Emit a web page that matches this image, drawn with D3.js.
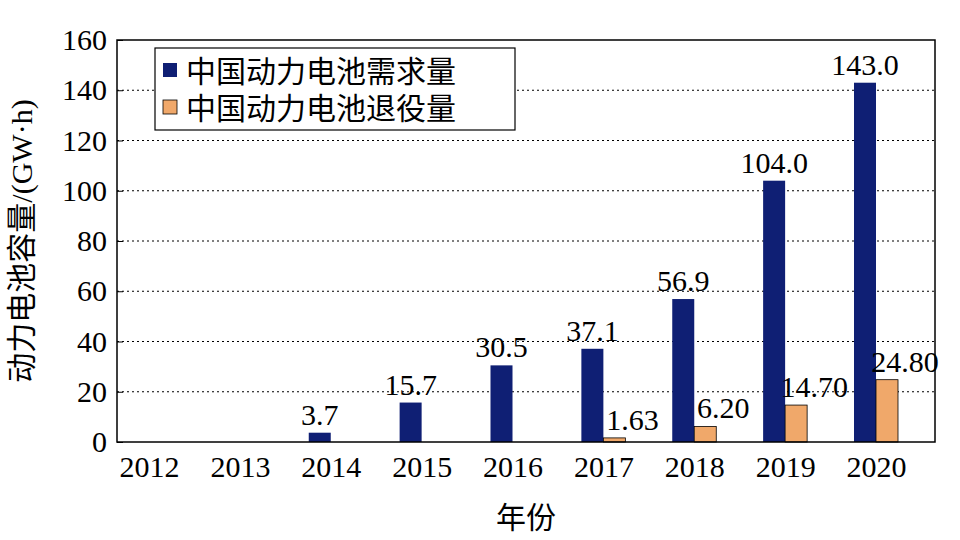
<!DOCTYPE html>
<html><head><meta charset="utf-8">
<script src="https://cdn.jsdelivr.net/npm/d3@7"></script>
<style>body{margin:0;background:#fff}text{font-family:"Liberation Serif","Noto Sans CJK SC",serif}</style>
</head><body><svg id="c" width="960" height="540"></svg>
<script>
var years = ["2012","2013","2014","2015","2016","2017","2018","2019","2020"];
var demand = [0,0,3.7,15.7,30.5,37.1,56.9,104.0,143.0];
var demandLabels = [null,null,"3.7","15.7","30.5","37.1","56.9","104.0","143.0"];
var retired = [0,0,0,0,0,1.63,6.20,14.70,24.80];
var retiredLabels = [null,null,null,null,null,"1.63","6.20","14.70","24.80"];
var yTicks = [0,20,40,60,80,100,120,140,160];

var margin = {top: 40, right: 25, bottom: 98, left: 117};
var W = 960, H = 540;
var svg = d3.select("#c");
var x = d3.scalePoint().domain(years).range([149, 876]);
var y = d3.scaleLinear().domain([0,160]).range([H - margin.bottom, margin.top]);
var bw = 22;

var rows = years.map((yr, i) => ({yr: yr, d: demand[i], dl: demandLabels[i], r: retired[i], rl: retiredLabels[i]}));

// grid
svg.append("g").selectAll("line").data(yTicks.slice(1,-1)).join("line")
  .attr("x1", margin.left).attr("x2", W - margin.right)
  .attr("y1", d => y(d)).attr("y2", d => y(d))
  .attr("stroke", "#000").attr("stroke-dasharray", "2,3").attr("stroke-width", 1);

// bars
svg.append("g").selectAll("rect").data(rows).join("rect")
  .attr("x", d => x(d.yr) - bw)
  .attr("y", d => y(d.d)).attr("width", bw).attr("height", d => y(0) - y(d.d))
  .attr("fill", "#0f1f74");
svg.append("g").selectAll("rect").data(rows).join("rect")
  .attr("x", d => x(d.yr))
  .attr("y", d => y(d.r)).attr("width", bw).attr("height", d => y(0) - y(d.r))
  .attr("fill", "#f0a86a").attr("stroke", d => d.r > 0 ? "#000" : "none").attr("stroke-width", 0.8);

// labels
svg.append("g").selectAll("text").data(rows.filter(d => d.dl)).join("text")
  .attr("x", d => x(d.yr) - bw/2)
  .attr("y", d => y(d.d) - 8).attr("text-anchor", "middle").attr("font-size", 30)
  .text(d => d.dl);
svg.append("g").selectAll("text").data(rows.filter(d => d.rl)).join("text")
  .attr("x", d => x(d.yr) + bw/2 + 18)
  .attr("y", d => y(d.r) - 8).attr("text-anchor", "middle").attr("font-size", 30)
  .text(d => d.rl);

// frame
svg.append("rect").attr("x", margin.left).attr("y", margin.top)
  .attr("width", W - margin.left - margin.right).attr("height", H - margin.top - margin.bottom)
  .attr("fill", "none").attr("stroke", "#000").attr("stroke-width", 1.5);

// axes
var ya = svg.append("g").attr("transform", `translate(${margin.left},0)`)
  .call(d3.axisLeft(y).tickValues(yTicks).tickSize(-6).tickPadding(10));
ya.select(".domain").remove();
ya.selectAll("text").attr("font-size", 30).attr("font-family", "Liberation Serif").attr("fill", "#000");
var xa = svg.append("g").attr("transform", `translate(0,${H - margin.bottom})`)
  .call(d3.axisBottom(x).tickSize(0).tickPadding(14));
xa.select(".domain").remove();
xa.selectAll("text").attr("font-size", 30).attr("font-family", "Liberation Serif").attr("fill", "#000");

svg.append("text").attr("x", (margin.left + W - margin.right)/2).attr("y", 528)
  .attr("text-anchor", "middle").attr("font-size", 30).text("年份");
svg.append("text").attr("transform", `translate(32,${(margin.top + H - margin.bottom)/2}) rotate(-90)`)
  .attr("text-anchor", "middle").attr("font-size", 30).text("动力电池容量/(GW·h)");

// legend
var lg = svg.append("g");
lg.append("rect").attr("x", 155).attr("y", 48).attr("width", 360).attr("height", 82)
  .attr("fill", "#fff").attr("stroke", "#000").attr("stroke-width", 1.2);
var legItems = [["中国动力电池需求量", "#0f1f74"], ["中国动力电池退役量", "#f0a86a"]];
legItems.forEach(function (d, i) {
  lg.append("rect").attr("x", 163).attr("y", 63 + i*37).attr("width", 14).attr("height", 14)
    .attr("fill", d[1]).attr("stroke", i ? "#000" : "none").attr("stroke-width", 0.8);
  lg.append("text").attr("x", 186).attr("y", 82 + i*37).attr("font-size", 30).text(d[0]);
});
</script></body></html>
